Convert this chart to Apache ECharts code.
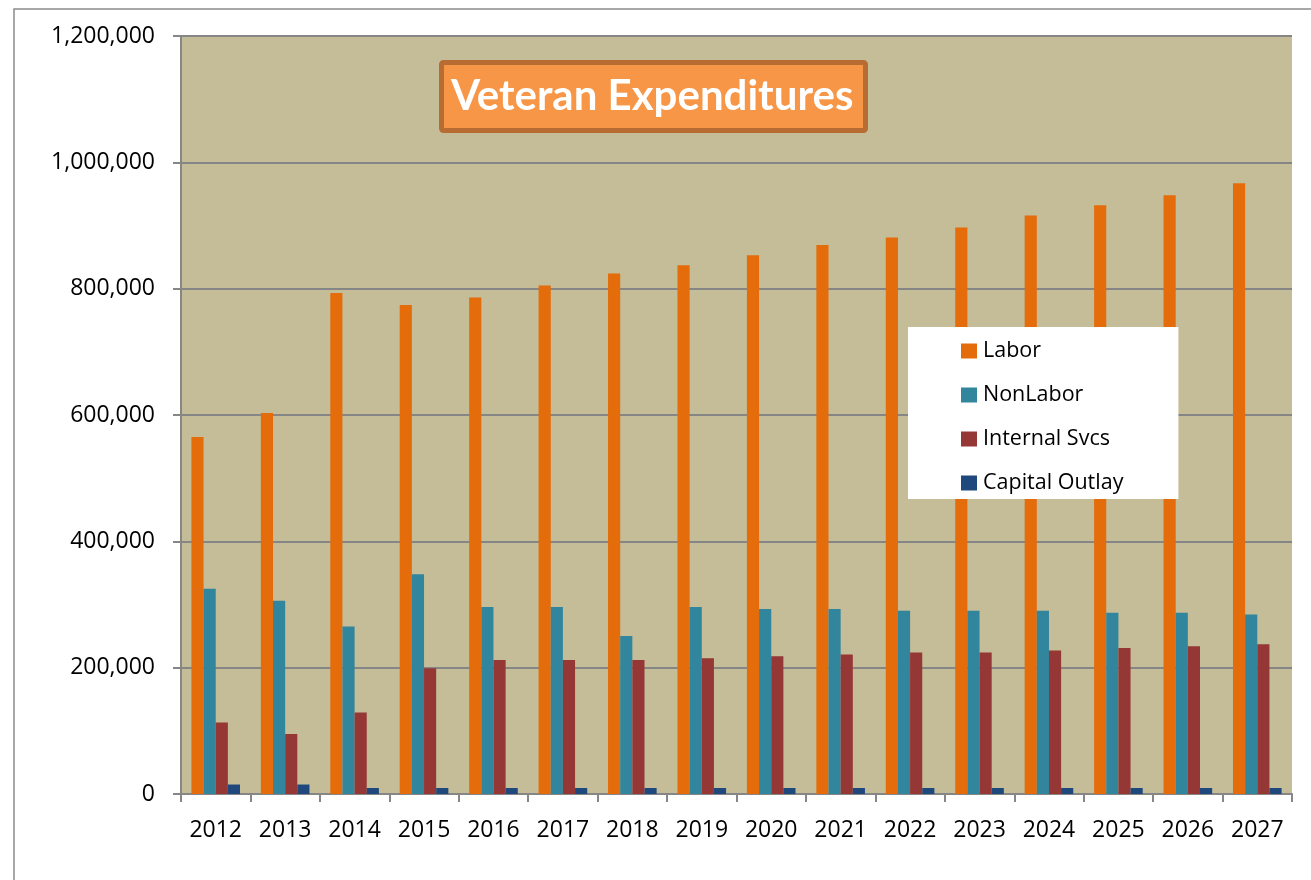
<!DOCTYPE html>
<html>
<head>
<meta charset="utf-8">
<script src="https://cdn.jsdelivr.net/npm/echarts@6/dist/echarts.min.js"></script>
<style>
  html, body { margin: 0; padding: 0; background: #fff; }
  #main { width: 1311px; height: 880px; }
</style>
</head>
<body>
<div id="main"></div>
<script>
// data
const years = ['2012', '2013', '2014', '2015', '2016', '2017', '2018', '2019',
  '2020', '2021', '2022', '2023', '2024', '2025', '2026', '2027'];
const labor = [565000, 603000, 793000, 774000, 786000, 805000, 824000, 837000,
  853000, 869000, 881000, 897000, 916000, 932000, 948000, 967000];
const nonLabor = [325000, 306000, 265000, 348000, 296000, 296000, 250000, 296000,
  293000, 293000, 290000, 290000, 290000, 287000, 287000, 284000];
const internalSvcs = [113000, 95000, 129000, 199000, 212000, 212000, 212000, 215000,
  218000, 221000, 224000, 224000, 227000, 231000, 234000, 237000];
const capitalOutlay = [15000, 15000, 9500, 9500, 9500, 9500, 9500, 9500,
  9500, 9500, 9500, 9500, 9500, 9500, 9500, 9500];

const chart = echarts.init(document.getElementById('main'));

const font = 'Open Sans';
const gridGray = '#868686';

function bar(name, data, color) {
  return {
    name: name,
    type: 'bar',
    data: data,
    barGap: '0%',
    barCategoryGap: '30%',
    itemStyle: { color: color },
    emphasis: { disabled: true }
  };
}

const option = {
  animation: false,
  backgroundColor: '#fff',
  title: {
    text: 'Veteran Expenditures',
    left: 441,
    top: 62,
    padding: [13, 12, 14, 10],
    backgroundColor: '#F79646',
    borderColor: '#B86C31',
    borderWidth: 5,
    borderRadius: 2,
    textStyle: {
      color: '#fff',
      fontFamily: 'Lato',
      fontWeight: 'bold',
      fontSize: 42
    }
  },
  legend: {
    data: ['Labor', 'NonLabor', 'Internal Svcs', 'Capital Outlay'],
    orient: 'vertical',
    left: 908,
    top: 327,
    padding: [13, 55, 5, 53],
    backgroundColor: '#fff',
    itemWidth: 16,
    itemHeight: 15,
    itemGap: 22,
    icon: 'rect',
    textStyle: { fontFamily: font, fontSize: 21.5, color: '#000', padding: [0, 0, 0, 1] }
  },
  grid: {
    left: 181,
    right: 19,
    top: 36,
    bottom: 86,
    show: true,
    backgroundColor: '#C4BD97',
    borderWidth: 0
  },
  xAxis: {
    type: 'category',
    data: years,
    axisLine: { lineStyle: { color: gridGray, width: 2 } },
    axisTick: { show: true, length: 8, lineStyle: { color: gridGray, width: 2 } },
    axisLabel: { fontFamily: font, fontSize: 23, color: '#000', margin: 25 }
  },
  yAxis: {
    type: 'value',
    min: 0,
    max: 1200000,
    interval: 200000,
    axisLine: { show: true, lineStyle: { color: gridGray, width: 2 } },
    axisTick: { show: true, length: 8, lineStyle: { color: gridGray, width: 2 } },
    splitLine: { lineStyle: { color: gridGray, width: 2 } },
    axisLabel: {
      fontFamily: font, fontSize: 23, color: '#000', margin: 26,
      formatter: v => v.toLocaleString('en-US')
    }
  },
  graphic: [{
    type: 'rect',
    silent: true,
    shape: { x: 14, y: 9, width: 1320, height: 900 },
    style: { fill: null, stroke: '#8c8c8c', lineWidth: 1.5 }
  }],
  series: [
    bar('Labor', labor, '#E46C0A'),
    bar('NonLabor', nonLabor, '#31859C'),
    bar('Internal Svcs', internalSvcs, '#953735'),
    bar('Capital Outlay', capitalOutlay, '#1F497D')
  ]
};

chart.setOption(option);
</script>
</body>
</html>
